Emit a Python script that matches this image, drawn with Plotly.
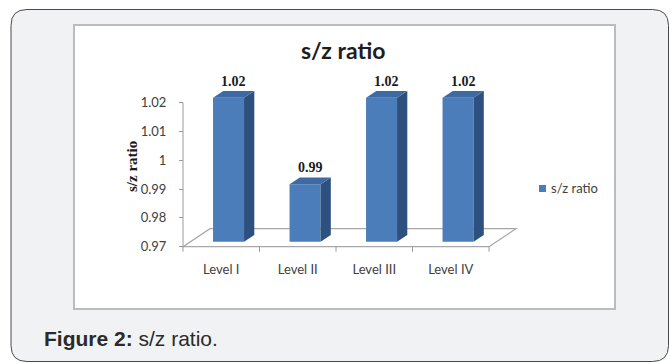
import plotly.graph_objects as go

# ---- data -------------------------------------------------------------
categories = ["Level I", "Level II", "Level III", "Level IV"]
sz_ratio = [1.02, 0.99, 1.02, 1.02]
series_name = "s/z ratio"
y_tickvals = [0.97, 0.98, 0.99, 1.00, 1.01, 1.02]
y_ticktext = ["0.97", "0.98", "0.99", "1", "1.01", "1.02"]
chart_title = "s/z ratio"
y_title = "s/z ratio"
caption_bold = "Figure 2:"
caption_rest = "s/z ratio."

# ---- page geometry (pixels) -------------------------------------------
W, H = 670, 363
AXIS_PX = 183.0          # x pixel of the left edge of the first category
FLOOR_PX = 246.7         # y pixel of the axis minimum
CAT_PX = 76.5            # pixels per category
UNIT_PX = 28.8 / 0.01    # pixels per unit of ratio
Y_MIN = y_tickvals[0]

x_range = [-0.5 - AXIS_PX / CAT_PX, -0.5 + (W - AXIS_PX) / CAT_PX]
y_range = [Y_MIN - (H - FLOOR_PX) / UNIT_PX, Y_MIN + FLOOR_PX / UNIT_PX]

# pseudo-3D depth of the floor, expressed in axis units
DEPTH_X = 27 / CAT_PX
DEPTH_Y = 18 / UNIT_PX
F0, F1 = 0.27, 0.65      # bar front / back as fractions of floor depth
BAR_W = 31 / CAT_PX

FRONT = "#4a7dba"
TOP = "#3d6aa3"
SIDE = "#2d507f"
GRID = "#9a9a9a"
TXT = "#404040"


def px(x):
    return x / W


def py(y):
    return 1 - y / H


def rounded_rect(x0, y0, x1, y1, r):
    rx, ry = r / W, r / H
    X0, X1, Y0, Y1 = px(x0), px(x1), py(y0), py(y1)
    return (f"M{X0 + rx},{Y0} L{X1 - rx},{Y0} Q{X1},{Y0} {X1},{Y0 - ry} "
            f"L{X1},{Y1 + ry} Q{X1},{Y1} {X1 - rx},{Y1} L{X0 + rx},{Y1} "
            f"Q{X0},{Y1} {X0},{Y1 + ry} L{X0},{Y0 - ry} Q{X0},{Y0} {X0 + rx},{Y0} Z")


fig = go.Figure()

# front faces of the bars
bar_base = Y_MIN + F0 * DEPTH_Y
bar_offset = -BAR_W / 2 + F0 * DEPTH_X
fig.add_bar(
    x=categories,
    y=[v - Y_MIN for v in sz_ratio],
    base=bar_base,
    width=BAR_W,
    offset=bar_offset,
    marker=dict(color=FRONT, line=dict(width=0)),
    name=series_name,
    showlegend=False,
    hoverinfo="skip",
)

shapes = []

# outer panel and inner chart frame
shapes.append(dict(type="path", xref="paper", yref="paper", layer="below",
                   path=rounded_rect(11, 9.5, 668.5, 361.5, 16),
                   fillcolor="#f1f2f4", line=dict(color="#4a4a4a", width=1)))
shapes.append(dict(type="rect", xref="paper", yref="paper", layer="below",
                   x0=px(74), x1=px(615), y0=py(25), y1=py(309),
                   fillcolor="white", line=dict(color="#bcbcbc", width=2)))

# floor of the 3D plot
n = len(categories)
fx0, fx1 = -0.5, n - 0.5
shapes.append(dict(type="path", xref="x", yref="y", layer="below",
                   path=(f"M{fx0},{Y_MIN} L{fx1},{Y_MIN} "
                         f"L{fx1 + DEPTH_X},{Y_MIN + DEPTH_Y} "
                         f"L{fx0 + DEPTH_X},{Y_MIN + DEPTH_Y} Z"),
                   line=dict(color="#a8a8a8", width=1.2)))

# value axis line
shapes.append(dict(type="line", xref="x", yref="y", layer="below",
                   x0=fx0, x1=fx0, y0=Y_MIN, y1=y_tickvals[-1],
                   line=dict(color=GRID, width=1)))

# category boundary ticks
for k in range(n + 1):
    xb = -0.5 + k
    shapes.append(dict(type="line", xref="x", yref="y", layer="below",
                       x0=xb, x1=xb, y0=Y_MIN, y1=Y_MIN - 5 / UNIT_PX,
                       line=dict(color=GRID, width=1)))

# top and side faces of every bar
dx = (F1 - F0) * DEPTH_X
dy = (F1 - F0) * DEPTH_Y
for i, v in enumerate(sz_ratio):
    xl = i + bar_offset
    xr = xl + BAR_W
    yt = v + F0 * DEPTH_Y
    shapes.append(dict(type="path", xref="x", yref="y",
                       path=(f"M{xr},{bar_base} L{xr + dx},{bar_base + dy} "
                             f"L{xr + dx},{yt + dy} L{xr},{yt} Z"),
                       fillcolor=SIDE, line=dict(width=0)))
    shapes.append(dict(type="path", xref="x", yref="y",
                       path=(f"M{xl},{yt} L{xr},{yt} L{xr + dx},{yt + dy} "
                             f"L{xl + dx},{yt + dy} Z"),
                       fillcolor=TOP, line=dict(width=0)))

# legend key
shapes.append(dict(type="rect", xref="paper", yref="paper",
                   x0=px(539), x1=px(546), y0=py(185), y1=py(192),
                   fillcolor=FRONT, line=dict(width=0)))

annotations = []

# value labels above the bars
for i, v in enumerate(sz_ratio):
    annotations.append(dict(
        x=i + bar_offset + BAR_W / 2 + dx / 2, y=v + F1 * DEPTH_Y,
        xref="x", yref="y", text=f"{v:.2f}", showarrow=False,
        xanchor="center", yanchor="bottom", yshift=0,
        font=dict(family="Liberation Serif", size=14, color="#1a1a1a", weight="bold")))

# chart title
annotations.append(dict(x=px(343), y=py(50), xref="paper", yref="paper",
                        text=chart_title, showarrow=False,
                        xanchor="center", yanchor="middle",
                        font=dict(family="Lato", size=23, color="#1e1e1e", weight="bold")))

# value axis title
annotations.append(dict(x=px(132), y=py(167), xref="paper", yref="paper",
                        text=y_title, showarrow=False, textangle=-90,
                        xanchor="center", yanchor="middle",
                        font=dict(family="Liberation Serif", size=15, color="#1a1a1a", weight="bold")))

# legend text
annotations.append(dict(x=px(549), y=py(188), xref="paper", yref="paper",
                        text=series_name, showarrow=False,
                        xanchor="left", yanchor="middle",
                        font=dict(family="Lato", size=13, color=TXT)))

# caption below the chart
annotations.append(dict(x=px(42), y=py(338), xref="paper", yref="paper",
                        text=f"<b>{caption_bold}</b> {caption_rest}",
                        showarrow=False, xanchor="left", yanchor="middle",
                        font=dict(family="Liberation Sans", size=21, color="#2a2a2a")))

fig.update_layout(
    width=W, height=H,
    margin=dict(l=0, r=0, t=0, b=0),
    paper_bgcolor="white",
    plot_bgcolor="rgba(0,0,0,0)",
    shapes=shapes,
    annotations=annotations,
    showlegend=False,
    xaxis=dict(type="category", categoryorder="array", categoryarray=categories,
               tickmode="array", tickvals=categories,
               range=x_range, anchor="free", position=py(FLOOR_PX),
               showgrid=False, zeroline=False, showline=False, ticks="",
               ticklabelstandoff=13,
               tickfont=dict(family="Lato", size=13, color=TXT)),
    yaxis=dict(range=y_range, anchor="free", position=px(AXIS_PX),
               tickmode="array", tickvals=y_tickvals, ticktext=y_ticktext,
               showgrid=False, zeroline=False, showline=False,
               ticks="outside", ticklen=4, tickcolor=GRID,
               ticklabelstandoff=10,
               tickfont=dict(family="Lato", size=13, color=TXT)),
)

fig.write_html("out.html")
